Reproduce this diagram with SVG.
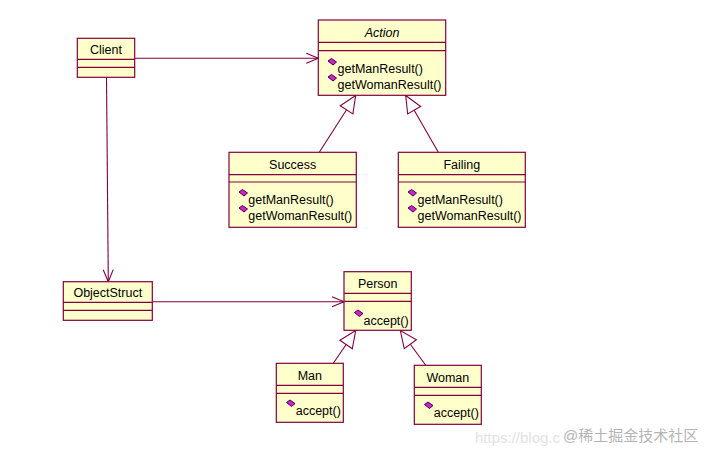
<svg xmlns="http://www.w3.org/2000/svg" width="710" height="461" viewBox="0 0 710 461">
<style>
.box{fill:#FFFFCC;stroke:#800040;stroke-width:1.2}
.div{stroke:#800040;stroke-width:1.2}
.t{font-family:"Liberation Sans",Arial,sans-serif;font-size:12.5px;fill:#000}
.c{text-anchor:middle}
.i{font-style:italic}
.con{stroke:#800040;stroke-width:1.1;fill:none}
.wm{font-family:"Liberation Sans","Noto Sans CJK SC",sans-serif;font-size:15px}
.op{fill:#D020D0;stroke:#400040;stroke-width:1}
</style>
<defs>
<marker id="open" markerUnits="userSpaceOnUse" markerWidth="14" markerHeight="12" refX="12" refY="5" orient="auto" overflow="visible">
<path d="M0,0 L12,5 L0,10" fill="none" stroke="#800040" stroke-width="1.1"/>
</marker>
<marker id="gen" markerUnits="userSpaceOnUse" markerWidth="20" markerHeight="18" refX="17" refY="7.5" orient="auto" overflow="visible">
<path d="M17,7.5 L0,0 L0,15 Z" fill="#fff" stroke="#800040" stroke-width="1.1"/>
</marker>
<polygon id="op" class="op" points="0.5,3 4,0.5 9,4 5.5,7"/>
</defs>
<rect width="710" height="461" fill="#fff"/>

<g id="connectors">
<line class="con" x1="134.7" y1="58.3" x2="318.3" y2="58.3" marker-end="url(#open)"/>
<line class="con" x1="106.5" y1="77.3" x2="108.3" y2="281.7" marker-end="url(#open)"/>
<line class="con" x1="152.3" y1="301.7" x2="344" y2="301.7" marker-end="url(#open)"/>
<line class="con" x1="319.3" y1="152.3" x2="355.7" y2="95.5" marker-end="url(#gen)"/>
<line class="con" x1="438.3" y1="152.3" x2="405.7" y2="95.5" marker-end="url(#gen)"/>
<line class="con" x1="333.3" y1="363.3" x2="355.7" y2="330.5" marker-end="url(#gen)"/>
<line class="con" x1="425.7" y1="365.3" x2="400.3" y2="330.5" marker-end="url(#gen)"/>
</g>

<g id="Client">
<rect class="box" x="77.3" y="38.3" width="57.4" height="39"/>
<line class="div" x1="77.3" y1="59.3" x2="134.7" y2="59.3"/>
<line class="div" x1="77.3" y1="67.3" x2="134.7" y2="67.3"/>
<text class="t c" x="106" y="54">Client</text>
</g>

<g id="Action">
<rect class="box" x="318.3" y="20" width="127.4" height="75.3"/>
<line class="div" x1="318.3" y1="42.3" x2="445.7" y2="42.3"/>
<line class="div" x1="318.3" y1="50.7" x2="445.7" y2="50.7"/>
<text class="t c i" x="382" y="36.5">Action</text>
<use href="#op" x="327.5" y="58"/>
<text class="t" x="337.5" y="73">getManResult()</text>
<use href="#op" x="327.5" y="74"/>
<text class="t" x="337.5" y="89">getWomanResult()</text>
</g>

<g id="Success">
<rect class="box" x="229" y="152.3" width="127.3" height="75"/>
<line class="div" x1="229" y1="174.7" x2="356.3" y2="174.7"/>
<line class="div" x1="229" y1="182" x2="356.3" y2="182"/>
<text class="t c" x="292.7" y="168.5">Success</text>
<use href="#op" x="238.5" y="189"/>
<text class="t" x="248.3" y="204">getManResult()</text>
<use href="#op" x="238.5" y="205"/>
<text class="t" x="248.3" y="220">getWomanResult()</text>
</g>

<g id="Failing">
<rect class="box" x="398.3" y="152.3" width="127" height="75"/>
<line class="div" x1="398.3" y1="174.7" x2="525.3" y2="174.7"/>
<line class="div" x1="398.3" y1="182" x2="525.3" y2="182"/>
<text class="t c" x="461.8" y="168.5">Failing</text>
<use href="#op" x="407.5" y="189"/>
<text class="t" x="417.5" y="204">getManResult()</text>
<use href="#op" x="407.5" y="205"/>
<text class="t" x="417.5" y="220">getWomanResult()</text>
</g>

<g id="ObjectStruct">
<rect class="box" x="63.3" y="281.7" width="89" height="38.6"/>
<line class="div" x1="63.3" y1="302.3" x2="152.3" y2="302.3"/>
<line class="div" x1="63.3" y1="310.3" x2="152.3" y2="310.3"/>
<text class="t c" x="107.8" y="297.3">ObjectStruct</text>
</g>

<g id="Person">
<rect class="box" x="344" y="271.7" width="67.3" height="58.6"/>
<line class="div" x1="344" y1="293.3" x2="411.3" y2="293.3"/>
<line class="div" x1="344" y1="301.3" x2="411.3" y2="301.3"/>
<text class="t c" x="377.7" y="288.3">Person</text>
<use href="#op" x="354" y="309.5"/>
<text class="t" x="363.5" y="324.5">accept()</text>
</g>

<g id="Man">
<rect class="box" x="276.3" y="363.3" width="67" height="59"/>
<line class="div" x1="276.3" y1="385.3" x2="343.3" y2="385.3"/>
<line class="div" x1="276.3" y1="393.3" x2="343.3" y2="393.3"/>
<text class="t c" x="309.8" y="380">Man</text>
<use href="#op" x="286" y="399.5"/>
<text class="t" x="295.7" y="414.5">accept()</text>
</g>

<g id="Woman">
<rect class="box" x="414.3" y="365.3" width="67" height="59"/>
<line class="div" x1="414.3" y1="387.3" x2="481.3" y2="387.3"/>
<line class="div" x1="414.3" y1="395.3" x2="481.3" y2="395.3"/>
<text class="t c" x="447.8" y="382.3">Woman</text>
<use href="#op" x="424" y="401.5"/>
<text class="t" x="433.7" y="416.5">accept()</text>
</g>

<g id="watermark">
<text class="wm" x="475" y="443" fill="#e2e2e2">https://blog.c</text>
<text class="wm" x="563" y="441" fill="#b4b4b4">@稀土掘金技术社区</text>
</g>
</svg>
